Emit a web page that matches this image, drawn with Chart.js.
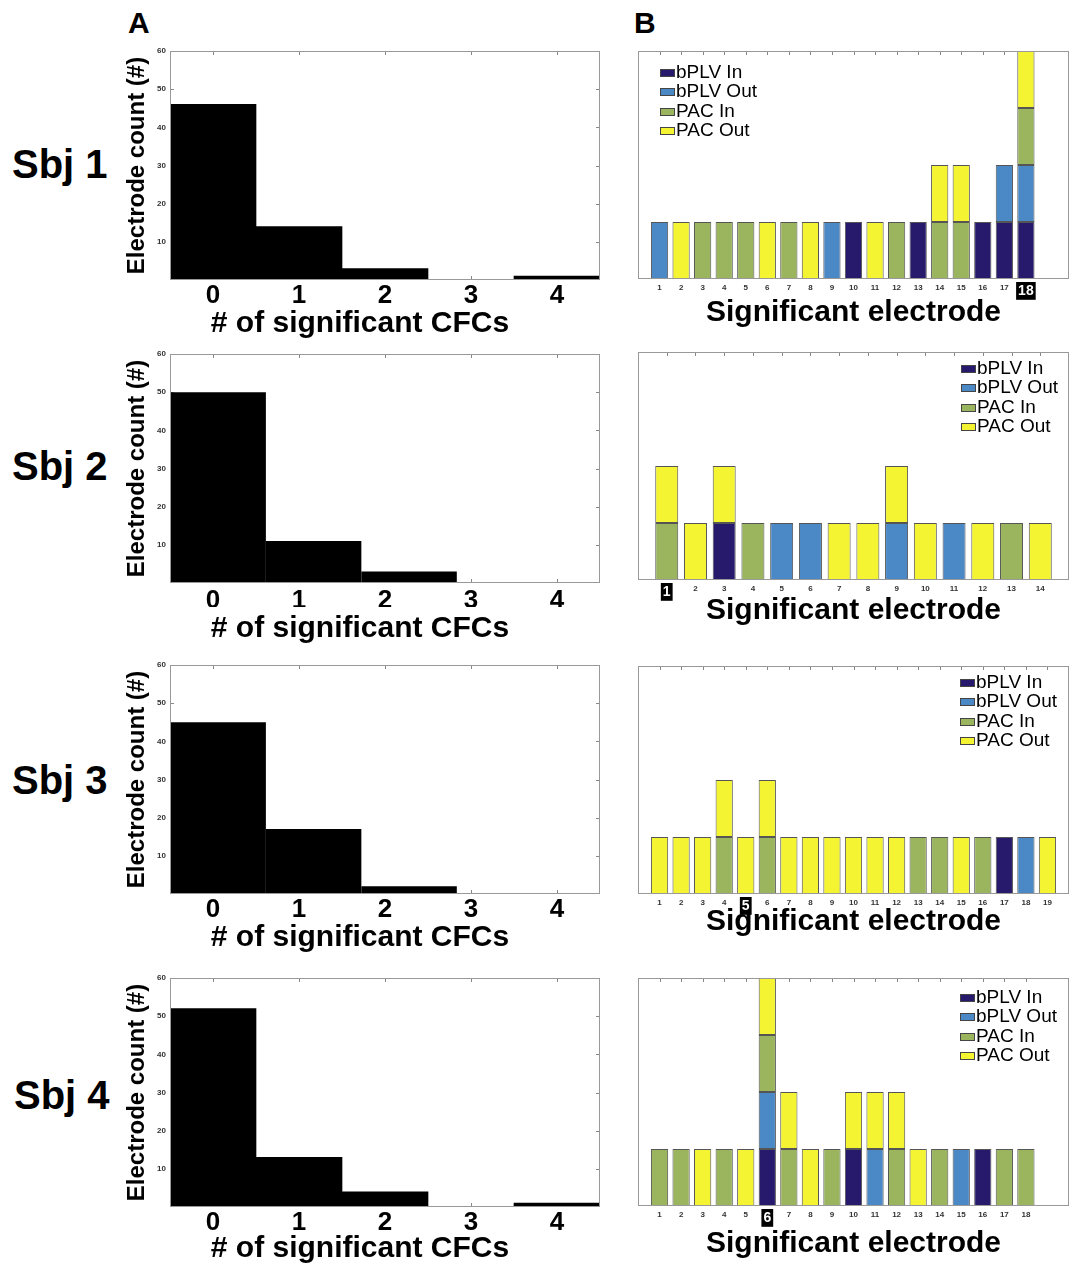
<!DOCTYPE html>
<html>
<head>
<meta charset="utf-8">
<script src="https://cdn.jsdelivr.net/npm/chart.js@4.4.1/dist/chart.umd.min.js"></script>
<style>
  body { margin: 0; background: #fff; }
  #page { position: relative; width: 1074px; height: 1267px; overflow: hidden; font-family: 'Liberation Sans', Arial, sans-serif; }
  .lbl { position: absolute; font-weight: bold; line-height: 1; color: #000; white-space: nowrap; }
  canvas { position: absolute; }
</style>
</head>
<body>
<div id="page">
  <div class="lbl" style="left:128px;top:8px;font-size:30px">A</div>
  <div class="lbl" style="left:634px;top:8px;font-size:30px">B</div>
  <div class="lbl" style="left:12px;top:144px;font-size:40px">Sbj 1</div>
  <div class="lbl" style="left:12px;top:446px;font-size:40px">Sbj 2</div>
  <div class="lbl" style="left:12px;top:760px;font-size:40px">Sbj 3</div>
  <div class="lbl" style="left:14px;top:1075px;font-size:40px">Sbj 4</div>
</div>
<script>
// Panel A: histogram of significant CFCs per electrode
const cfcTicks = [0, 1, 2, 3, 4];
const binCentersSbj1 = [0, 1, 2, 3, 4];
const binCentersSbj2 = [0.06, 1.17, 2.28, 3.39, 4.5];
const binCentersSbj3 = [0.06, 1.17, 2.28, 3.39, 4.5];
const binCentersSbj4 = [0, 1, 2, 3, 4];
const binWidth = [1, 1.11, 1.11, 1];
const countSbj1 = [46, 14, 3, 0, 1];
const countSbj2 = [50, 11, 3, 0, 0];
const countSbj3 = [45, 17, 2, 0, 0];
const countSbj4 = [52, 13, 4, 0, 1];

// Panel B: significant electrodes, one stacked segment per coupling type
const seriesNames = ['bPLV In', 'bPLV Out', 'PAC In', 'PAC Out'];
const seriesColors = ['#27196b', '#4b88c6', '#9bb55f', '#f4f432'];

const electrodesSbj1 = [1, 2, 3, 4, 5, 6, 7, 8, 9, 10, 11, 12, 13, 14, 15, 16, 17, 18];
const bplvInSbj1  = [0, 0, 0, 0, 0, 0, 0, 0, 0, 1, 0, 0, 1, 0, 0, 1, 1, 1];
const bplvOutSbj1 = [1, 0, 0, 0, 0, 0, 0, 0, 1, 0, 0, 0, 0, 0, 0, 0, 1, 1];
const pacInSbj1   = [0, 0, 1, 1, 1, 0, 1, 0, 0, 0, 0, 1, 0, 1, 1, 0, 0, 1];
const pacOutSbj1  = [0, 1, 0, 0, 0, 1, 0, 1, 0, 0, 1, 0, 0, 1, 1, 0, 0, 1];

const electrodesSbj2 = [1, 2, 3, 4, 5, 6, 7, 8, 9, 10, 11, 12, 13, 14];
const bplvInSbj2  = [0, 0, 1, 0, 0, 0, 0, 0, 0, 0, 0, 0, 0, 0];
const bplvOutSbj2 = [0, 0, 0, 0, 1, 1, 0, 0, 1, 0, 1, 0, 0, 0];
const pacInSbj2   = [1, 0, 0, 1, 0, 0, 0, 0, 0, 0, 0, 0, 1, 0];
const pacOutSbj2  = [1, 1, 1, 0, 0, 0, 1, 1, 1, 1, 0, 1, 0, 1];

const electrodesSbj3 = [1, 2, 3, 4, 5, 6, 7, 8, 9, 10, 11, 12, 13, 14, 15, 16, 17, 18, 19];
const bplvInSbj3  = [0, 0, 0, 0, 0, 0, 0, 0, 0, 0, 0, 0, 0, 0, 0, 0, 1, 0, 0];
const bplvOutSbj3 = [0, 0, 0, 0, 0, 0, 0, 0, 0, 0, 0, 0, 0, 0, 0, 0, 0, 1, 0];
const pacInSbj3   = [0, 0, 0, 1, 0, 1, 0, 0, 0, 0, 0, 0, 1, 1, 0, 1, 0, 0, 0];
const pacOutSbj3  = [1, 1, 1, 1, 1, 1, 1, 1, 1, 1, 1, 1, 0, 0, 1, 0, 0, 0, 1];

const electrodesSbj4 = [1, 2, 3, 4, 5, 6, 7, 8, 9, 10, 11, 12, 13, 14, 15, 16, 17, 18];
const bplvInSbj4  = [0, 0, 0, 0, 0, 1, 0, 0, 0, 1, 0, 0, 0, 0, 0, 1, 0, 0];
const bplvOutSbj4 = [0, 0, 0, 0, 0, 1, 0, 0, 0, 0, 1, 0, 0, 0, 1, 0, 0, 0];
const pacInSbj4   = [1, 1, 0, 1, 0, 1, 1, 0, 1, 0, 0, 1, 0, 1, 0, 0, 1, 1];
const pacOutSbj4  = [0, 0, 1, 0, 1, 1, 1, 1, 0, 1, 1, 1, 1, 0, 0, 0, 0, 0];

const highlighted = [18, 1, 5, 6];
const xMaxB = [20, 15, 20, 20];

const binCenters = [binCentersSbj1, binCentersSbj2, binCentersSbj3, binCentersSbj4];
const counts = [countSbj1, countSbj2, countSbj3, countSbj4];
const electrodes = [electrodesSbj1, electrodesSbj2, electrodesSbj3, electrodesSbj4];
const series = [
  [bplvInSbj1, bplvOutSbj1, pacInSbj1, pacOutSbj1],
  [bplvInSbj2, bplvOutSbj2, pacInSbj2, pacOutSbj2],
  [bplvInSbj3, bplvOutSbj3, pacInSbj3, pacOutSbj3],
  [bplvInSbj4, bplvOutSbj4, pacInSbj4, pacOutSbj4]
];

// layout per row
const rowTopA = [51, 354, 665, 978];
const rowTopB = [51, 352, 666, 978];
const tickPadA = [0, 2, 0, 0];
const titlePadA = [2, 4, 2, 0];
const axisHeightB = [52, 49, 46, 56];
const legendX = [22, 323, 322, 322];
const legendY = [21, 16, 16, 19];

Chart.defaults.font.family = "'Liberation Sans', Arial, sans-serif";
const page = document.getElementById('page');

function makeCanvas(left, top, w, h) {
  const c = document.createElement('canvas');
  c.width = w;
  c.height = h;
  c.style.left = left + 'px';
  c.style.top = top + 'px';
  page.appendChild(c);
  return c;
}

// box around the plot with short inward ticks, MATLAB style
const framePlugin = {
  id: 'frame',
  beforeDatasetsDraw(chart, args, opts) {
    const { ctx, chartArea: a, scales } = chart;
    ctx.save();
    ctx.strokeStyle = '#888';
    ctx.lineWidth = 1;
    ctx.beginPath();
    scales.x.ticks.forEach(t => {
      const px = Math.round(scales.x.getPixelForValue(t.value)) + 0.5;
      ctx.moveTo(px, a.top);
      ctx.lineTo(px, a.top + 4);
      ctx.moveTo(px, a.bottom);
      ctx.lineTo(px, a.bottom - 4);
    });
    if (opts.yTicks) {
      scales.y.ticks.forEach(t => {
        const py = Math.round(scales.y.getPixelForValue(t.value)) + 0.5;
        ctx.moveTo(a.left, py);
        ctx.lineTo(a.left + 4, py);
        ctx.moveTo(a.right, py);
        ctx.lineTo(a.right - 4, py);
      });
    }
    ctx.stroke();
    ctx.restore();
  },
  afterDatasetsDraw(chart) {
    const { ctx, chartArea: a } = chart;
    ctx.save();
    ctx.strokeStyle = '#999';
    ctx.lineWidth = 1;
    const l = Math.round(a.left) + 0.5, t = Math.round(a.top) + 0.5;
    ctx.strokeRect(l, t, Math.round(a.right) - Math.round(a.left) - 1, Math.round(a.bottom) - Math.round(a.top) - 1);
    ctx.restore();
  }
};

// legend drawn inside the plot area
const boxLegend = {
  id: 'boxLegend',
  afterDatasetsDraw(chart, args, opts) {
    const { ctx, chartArea: a } = chart;
    ctx.save();
    ctx.font = "19px 'Liberation Sans', Arial, sans-serif";
    ctx.textBaseline = 'middle';
    chart.data.datasets.forEach((ds, i) => {
      const x = Math.round(a.left + opts.x);
      const y = Math.round(a.top + opts.y + i * 19.4);
      ctx.fillStyle = ds.backgroundColor;
      ctx.fillRect(x, y - 3, 15, 8);
      ctx.strokeStyle = '#444';
      ctx.lineWidth = 1;
      ctx.strokeRect(x + 0.5, y - 2.5, 14, 7);
      ctx.fillStyle = '#000';
      ctx.fillText(ds.label, x + 16, y + 1);
    });
    ctx.restore();
  }
};

function histChart(i) {
  const pt = titlePadA[i];
  const canvas = makeCanvas(120, rowTopA[i] - 15, 481, 308 + pt);
  new Chart(canvas, {
    type: 'bar',
    data: {
      datasets: [{
        data: binCenters[i].map((x, k) => ({ x: x, y: counts[i][k] })),
        backgroundColor: '#000',
        borderWidth: 0,
        barPercentage: 1,
        // bar ruler uses the unit tick spacing, so widen by the bin width
        categoryPercentage: binWidth[i]
      }]
    },
    options: {
      responsive: false,
      animation: false,
      layout: { padding: { top: 15, right: 1, left: 0, bottom: 0 } },
      plugins: {
        legend: { display: false },
        tooltip: { enabled: false },
        title: {
          display: true,
          position: 'bottom',
          text: '# of significant CFCs',
          color: '#000',
          font: { size: 30, weight: 'bold', lineHeight: '36px' },
          padding: { top: pt, bottom: 4 }
        },
        frame: { yTicks: true }
      },
      scales: {
        x: {
          type: 'linear',
          min: -0.5,
          max: 4.5,
          offset: false,
          grid: { display: false, drawTicks: false, offset: false },
          border: { display: false },
          afterBuildTicks: s => { s.ticks = cfcTicks.map(v => ({ value: v })); },
          afterFit: s => { s.height = 24; },
          ticks: { font: { size: 26, weight: 'bold' }, color: '#000', padding: tickPadA[i], maxRotation: 0, autoSkip: false }
        },
        y: {
          min: 0,
          max: 60,
          grid: { display: false, drawTicks: false },
          border: { display: false },
          afterBuildTicks: s => { s.ticks = s.ticks.filter(t => t.value > 0); },
          afterFit: s => { s.width = 50; },
          ticks: { stepSize: 10, font: { size: 8, weight: 'bold' }, color: '#333', padding: 4 },
          title: {
            display: true,
            text: 'Electrode count (#)',
            color: '#000',
            font: { size: 24, weight: 'bold' },
            padding: { top: 3, bottom: 0 }
          }
        }
      }
    },
    plugins: [framePlugin]
  });
}

function electrodeChart(i) {
  const hi = highlighted[i];
  const canvas = makeCanvas(630, rowTopB[i] - 15, 444, 15 + 228 + axisHeightB[i]);
  new Chart(canvas, {
    type: 'bar',
    data: {
      datasets: seriesNames.map((name, s) => ({
        label: name,
        data: electrodes[i].map((e, k) => ({ x: e, y: series[i][s][k] })),
        backgroundColor: seriesColors[s],
        borderColor: '#555',
        borderWidth: 1,
        borderSkipped: false,
        barPercentage: 0.8,
        categoryPercentage: 1
      }))
    },
    options: {
      responsive: false,
      animation: false,
      layout: { padding: { top: 15, right: 5, left: 8, bottom: 0 } },
      plugins: {
        legend: { display: false },
        tooltip: { enabled: false },
        frame: { yTicks: false },
        boxLegend: { x: legendX[i], y: legendY[i] }
      },
      scales: {
        x: {
          type: 'linear',
          stacked: true,
          min: 0,
          max: xMaxB[i],
          offset: false,
          grid: { display: false, drawTicks: false, offset: false },
          border: { display: false },
          afterBuildTicks: s => { s.ticks = electrodes[i].map(v => ({ value: v })); },
          afterFit: s => { s.height = axisHeightB[i]; },
          ticks: {
            autoSkip: false,
            maxRotation: 0,
            padding: 4,
            color: c => (c.tick && c.tick.value === hi ? '#fff' : '#333'),
            font: c => (c.tick && c.tick.value === hi ? { size: 14, weight: 'bold' } : { size: 8, weight: 'bold' }),
            showLabelBackdrop: c => !!(c.tick && c.tick.value === hi),
            backdropColor: '#000',
            backdropPadding: { left: 2, right: 2, top: 1, bottom: 0 }
          },
          title: {
            display: true,
            text: 'Significant electrode',
            color: '#000',
            font: { size: 30, weight: 'bold', lineHeight: '36px' },
            padding: { top: 0, bottom: 0 }
          }
        },
        y: { display: false, stacked: true, min: 0, max: 4 }
      }
    },
    plugins: [framePlugin, boxLegend]
  });
}

for (let i = 0; i < 4; i++) {
  histChart(i);
  electrodeChart(i);
}
</script>
</body>
</html>
